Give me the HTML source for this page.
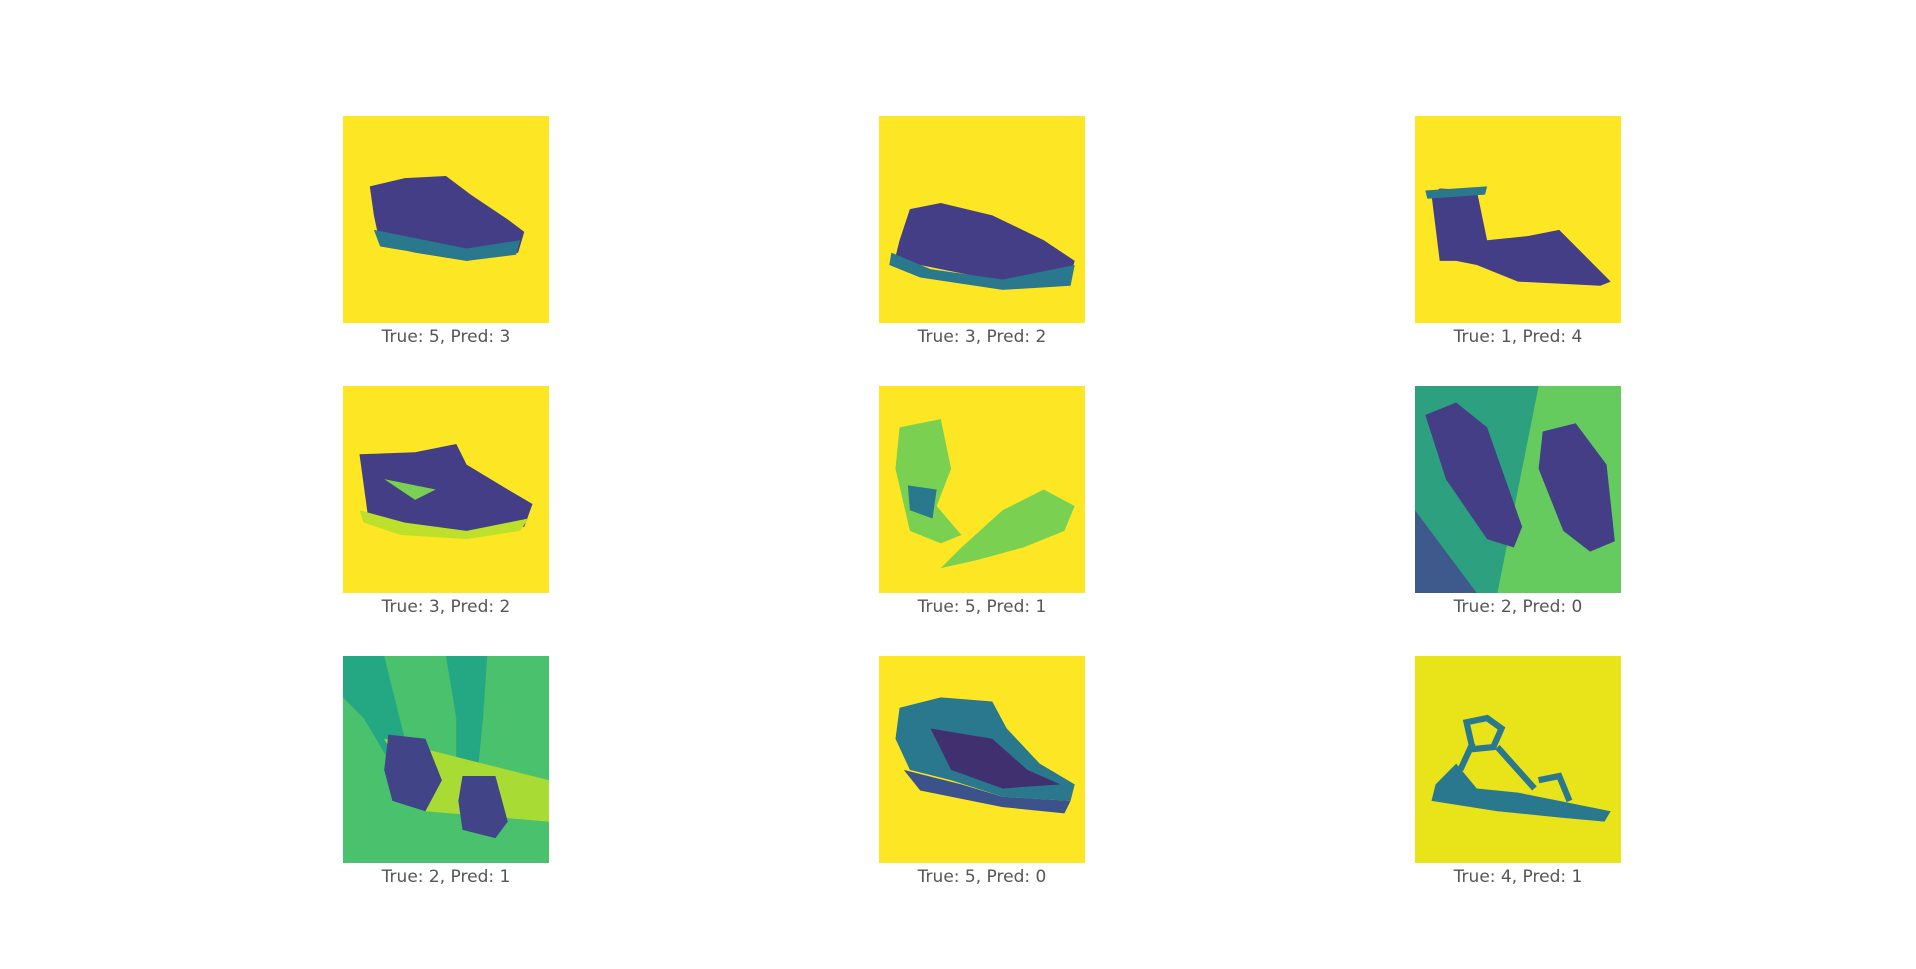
<!DOCTYPE html>
<html><head><meta charset="utf-8"><style>
body{margin:0;background:#fff;width:1916px;height:969px;position:relative;overflow:hidden;font-family:"DejaVu Sans","Liberation Sans",sans-serif}
.p{position:absolute;width:206px;height:207px}
.p svg{width:206px;height:207px;display:block}
.l{position:absolute;width:300px;text-align:center;font-size:17px;color:#555}
</style></head><body>
<div id="fig"></div>
<script>
const trueLabels=[5,3,1,3,5,2,2,5,4];
const predLabels=[3,2,4,2,1,0,1,0,1];
const colX=[343,879,1415];
const rowY=[116,386,656];
const D='#433e85',T='#2a788e',G='#7ad151';
const art=[
`<rect width="100" height="100" fill="#fde725"/><path d="M13,34 L30,30 L50,29 L62,38 L80,50 L88,56 L85,66 L60,70 L35,66 L18,62 L15,48Z" fill="${D}"/><path d="M15,55 L60,64 L86,60 L84,67 L60,70 L18,63Z" fill="${T}"/>`,
`<rect width="100" height="100" fill="#fde725"/><path d="M10,60 L15,45 L30,42 L55,48 L80,60 L95,70 L92,80 L60,80 L20,72 L8,68Z" fill="${D}"/><path d="M6,66 L25,74 L60,79 L95,72 L93,82 L60,84 L20,78 L5,72Z" fill="${T}"/>`,
`<rect width="100" height="100" fill="#fde725"/><path d="M8,38 L12,35 L30,36 L35,60 L55,58 L70,55 L95,80 L90,82 L50,80 L30,72 L20,70 L12,70Z" fill="${D}"/><path d="M5,36 L35,34 L34,38 L6,40Z" fill="${T}"/>`,
`<rect width="100" height="100" fill="#fde725"/><path d="M8,33 L35,32 L55,28 L60,38 L80,50 L92,57 L88,68 L60,72 L30,68 L12,62Z" fill="${D}"/><path d="M8,60 L30,66 L60,70 L90,64 L86,70 L60,74 L28,72 L10,66Z" fill="#bde02a"/><path d="M20,45 L45,50 L35,55Z" fill="${G}"/>`,
`<rect width="100" height="100" fill="#fde725"/><path d="M10,20 L30,16 L35,40 L28,58 L40,72 L30,76 L15,70 L8,40Z" fill="${G}"/><path d="M40,78 L60,60 L80,50 L95,58 L90,70 L70,78 L48,84 L30,88Z" fill="${G}"/><path d="M14,48 L28,50 L26,64 L15,60Z" fill="${T}"/>`,
`<rect width="100" height="100" fill="#2ca07f"/><path d="M60,0 L100,0 L100,100 L40,100Z" fill="#65cb5e"/><path d="M0,60 L30,100 L0,100Z" fill="#3e5a8c"/><path d="M5,14 L20,8 L35,20 L52,68 L48,78 L35,74 L15,45Z" fill="${D}"/><path d="M62,22 L78,18 L93,38 L97,75 L85,80 L72,70 L60,40Z" fill="${D}"/>`,
`<rect width="100" height="100" fill="#4ac16d"/><path d="M0,0 L20,0 L30,40 L40,60 L28,60 L10,30 L0,20Z" fill="#23a883"/><path d="M50,0 L70,0 L68,30 L65,60 L55,60 L55,30Z" fill="#23a883"/><path d="M20,40 L100,60 L100,80 L40,75Z" fill="#a8db34"/><path d="M22,38 L40,40 L48,60 L40,75 L24,70 L20,55Z" fill="#414487"/><path d="M58,58 L74,58 L80,80 L74,88 L58,84 L56,70Z" fill="#414487"/>`,
`<rect width="100" height="100" fill="#fde725"/><path d="M10,25 L30,20 L55,22 L62,35 L78,52 L95,62 L93,70 L60,68 L35,60 L15,55 L8,40Z" fill="${T}"/><path d="M25,35 L55,40 L72,55 L88,62 L60,64 L35,55Z" fill="#40306f"/><path d="M12,55 L40,62 L60,68 L93,70 L90,76 L60,73 L20,65Z" fill="#3b528b"/>`,
`<rect width="100" height="100" fill="#e8e419"/><path d="M25,32 L35,30 L42,35 L38,44 L28,45Z" fill="none" stroke="${T}" stroke-width="3"/><path d="M20,52 L10,62 L8,70 L40,75 L70,78 L92,80 L95,75 L70,70 L50,66 L30,64Z" fill="${T}"/><path d="M28,42 L22,55 M40,44 L58,64 M60,60 L70,58 L75,70" stroke="${T}" stroke-width="3" fill="none"/>`
];
const fig=document.getElementById('fig');
for(let i=0;i<9;i++){
  const x=colX[i%3],y=rowY[Math.floor(i/3)];
  const p=document.createElement('div');p.className='p';
  
  
  p.style.left=x+'px';p.style.top=y+'px';
  p.innerHTML='<svg viewBox="0 0 100 100" preserveAspectRatio="none">'+art[i]+'</svg>';
  fig.appendChild(p);
  const l=document.createElement('div');l.className='l';
  
  
  l.style.left=(x+103-150)+'px';l.style.top=(y+211)+'px';
  l.textContent='True: '+trueLabels[i]+', Pred: '+predLabels[i];
  fig.appendChild(l);
}
</script>
</body></html>
